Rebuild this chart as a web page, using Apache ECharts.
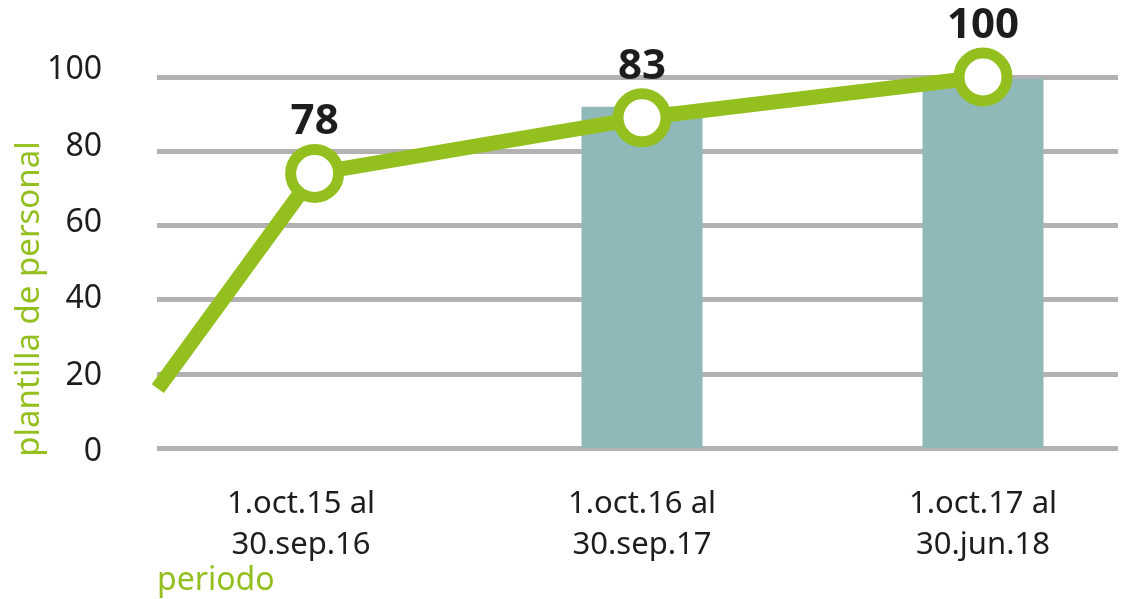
<!DOCTYPE html>
<html>
	<head>
		<meta charset="utf-8" />
		<title>plantilla</title>
		<script src="https://cdn.jsdelivr.net/npm/echarts@6/dist/echarts.min.js"></script>
	</head>
	<body style="margin:0;">
		<div id="chart" style="width:1121px;height:599px;"></div>
	</body>
	<script type="text/javascript">

	// datos
	var categories = ['1.oct.15 al\n30.sep.16', '1.oct.16 al\n30.sep.17', '1.oct.17 al\n30.jun.18'];
	var barValues = ['-', 92, 99.5];
	var lineX = [-0.42, 0.04, 1, 2];
	var lineY = [16, 74, 89, 100];
	var lineLabels = ['', '78', '83', '100'];
	var yMin = 0, yMax = 100, yStep = 20;

	var green = '#93c01f';
	var dark = '#1d1d1b';
	var font = 'Noto Sans';

	// eje x de la linea: categoria 0 en x=301px, 341px por categoria, area 157..1118px
	var xLineMin = -144 / 341;
	var xLineMax = 817 / 341;

	var lineData = [];
	for (var i = 0; i < lineX.length; i++) {
		var p = { value: [lineX[i], lineY[i]] };
		if (i == 0) {
			p.symbol = 'none';
		}
		lineData.push(p);
	}

	var myChart = echarts.init(document.getElementById('chart'));
	var option = {
		animation: false,
		textStyle: { fontFamily: font },
		grid: [
			// lineas de fondo y linea
			{ left: 157, right: 3, top: 77, bottom: 151 },
			// barras (categorias en los bordes)
			{ left: 301, right: 138, top: 77, bottom: 151 },
			// etiquetas eje y
			{ left: 157, right: 3, top: 70, bottom: 147 }
		],
		xAxis: [
			{ gridIndex: 0, type: 'value', min: xLineMin, max: xLineMax, show: false },
			{
				gridIndex: 1,
				type: 'category',
				boundaryGap: false,
				data: categories,
				axisLine: { show: false },
				axisTick: { show: false },
				axisLabel: {
					margin: 36,
					fontSize: 31,
					lineHeight: 41,
					color: dark,
					fontFamily: font
				}
			},
			{ gridIndex: 2, type: 'value', show: false }
		],
		yAxis: [
			{
				gridIndex: 0,
				type: 'value',
				min: yMin, max: yMax, interval: yStep,
				axisLine: { show: false },
				axisTick: { show: false },
				axisLabel: { show: false },
				splitLine: { lineStyle: { color: '#b2b2b2', width: 5 } }
			},
			{ gridIndex: 1, type: 'value', min: yMin, max: yMax, show: false },
			{
				gridIndex: 2,
				type: 'value',
				min: yMin, max: yMax, interval: yStep,
				axisLine: { show: false },
				axisTick: { show: false },
				splitLine: { show: false },
				axisLabel: { margin: 55, fontSize: 32, color: dark, fontFamily: font }
			}
		],
		series: [
			{
				type: 'bar',
				xAxisIndex: 1,
				yAxisIndex: 1,
				data: barValues,
				barWidth: 121,
				itemStyle: { color: '#8fb9b8' }
			},
			{
				type: 'line',
				xAxisIndex: 0,
				yAxisIndex: 0,
				z: 5,
				clip: false,
				data: lineData,
				symbol: 'circle',
				symbolSize: 48,
				lineStyle: { color: green, width: 15 },
				itemStyle: { color: '#ffffff', borderColor: green, borderWidth: 11 },
				label: {
					show: true,
					position: 'inside',
					offset: [0, -51],
					fontSize: 42,
					fontWeight: 'bold',
					color: dark,
					fontFamily: font,
					formatter: function (p) { return lineLabels[p.dataIndex]; }
				}
			}
		],
		graphic: [
			{
				type: 'text',
				x: 30, y: 299,
				rotation: Math.PI / 2,
				style: {
					text: 'plantilla de personal',
					fill: green,
					fontSize: 33,
					fontFamily: font,
					align: 'center',
					verticalAlign: 'middle'
				}
			},
			{
				type: 'text',
				x: 157, y: 581,
				style: {
					text: 'periodo',
					fill: green,
					fontSize: 32,
					fontFamily: font,
					align: 'left',
					verticalAlign: 'middle'
				}
			}
		]
	};

	myChart.setOption(option);

	</script>
</html>
